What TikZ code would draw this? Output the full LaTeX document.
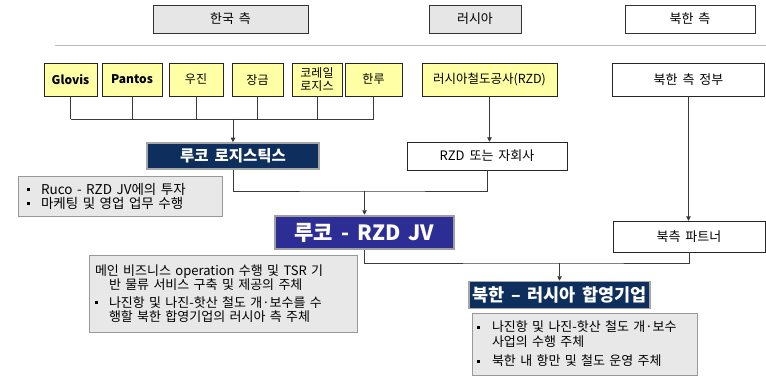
\documentclass[tikz,border=0pt]{standalone}
\usepackage{fontspec}
\setmainfont{Noto Sans CJK KR}[WordSpace=1.7]
\usetikzlibrary{arrows.meta}
\definecolor{hdrgray}{HTML}{E6E6E6}
\definecolor{yfill}{HTML}{FFFFA6}
\definecolor{navyfill}{HTML}{0E2F5E}
\definecolor{jvfill}{HTML}{2D2D96}
\definecolor{notefill}{HTML}{E8E8E8}
\definecolor{connline}{HTML}{3A3A3A}
\newcommand{\sqb}[1]{\makebox[#1][l]{\raisebox{3pt}{\rule{3pt}{3pt}}}}

\begin{document}
\begin{tikzpicture}[x=1pt,y=-1pt,
    hdr/.style={draw=black!80, minimum height=28pt, inner sep=0pt, font=\fontsize{13}{15}\selectfont},
    ybox/.style={draw=black!85, fill=yfill, minimum height=33pt, inner sep=0pt, align=center, font=\fontsize{12}{13.5}\selectfont},
    wbox/.style={draw=black!85, fill=white, minimum height=30pt, inner sep=0pt, font=\fontsize{13}{15}\selectfont},
    navy/.style={draw=gray!70, line width=1.5pt, fill=navyfill, text=white, inner sep=0pt, font=\fontsize{15.5}{17}\selectfont\bfseries},
    note/.style={draw=gray!80, fill=notefill, inner sep=0pt, align=left},
    conn/.style={draw=connline, line width=.9pt},
    >={Triangle[length=4.5pt,width=4.5pt]}]
  \useasboundingbox (0,0) rectangle (766,377);
  % header
  \node[hdr,fill=hdrgray,minimum width=155pt] (hkr) at (230.5,19) {한국 측};
  \node[hdr,fill=hdrgray,minimum width=92pt] (hru) at (475,19) {러시아};
  \node[hdr,fill=white,minimum width=130pt] (hnk) at (690,19) {북한 측};
  \draw[gray!55,line width=.8pt] (55,45) -- (766,45);
  % korean side
  \foreach \n/\x/\w/\t in {glovis/70.5/53/\textbf{Glovis}, pantos/132/60/\textbf{Pantos},
      ujin/196/54/우진, janggeum/257.5/51/장금, korail/317/50/{코레일\\로지스}, hanru/373.5/57/한루}
    \node[ybox,minimum width=\w pt] (\n) at (\x,79.5) {\t};
  \node[ybox,minimum width=135pt,font=\fontsize{12.5}{14}\selectfont] (rzd) at (489.5,79.5) {러시아철도공사(RZD)};
  \node[wbox,minimum width=152pt,minimum height=33pt] (nkgov) at (688.5,79.5) {북한 측 정부};
  \node[navy,minimum width=172pt,minimum height=26pt] (ruco) at (233,156) {루코 로지스틱스};
  \node[wbox,minimum width=160pt,minimum height=28pt] (rzdsub) at (487,156) {RZD 또는 자회사};
  \node[note,minimum width=204pt,minimum height=40pt,text width=186pt,font=\fontsize{13.5}{14}\selectfont] (note1) at (120,196)
    {\sqb{14pt}Ruco - RZD JV에의 투자\\ \sqb{14pt}마케팅 및 영업 업무 수행};
  \node[draw=gray!75,line width=2.5pt,fill=jvfill,text=white,inner sep=0pt,minimum width=179pt,minimum height=33pt,
    font=\fontsize{21}{23}\selectfont\bfseries] (jv) at (364.5,232.5) {루코 - RZD JV};
  \node[note,minimum width=268pt,minimum height=77pt,text width=256pt,font=\fontsize{13}{14.5}\selectfont] (note2) at (223,293.5)
    {메인 비즈니스 operation 수행 및 TSR 기\\
     \hspace*{14pt}반 물류 서비스 구축 및 제공의 주체\\[3pt]
     \sqb{14pt}나진항 및 나진-핫산 철도 개·보수를 수\\
     \hspace*{14pt}행할 북한 합영기업의 러시아 측 주체};
  \node[wbox,minimum width=152pt,minimum height=31pt] (nkpartner) at (689,236.5) {북측 파트너};
  \node[navy,minimum width=181pt,minimum height=27pt,font=\fontsize{17.5}{19}\selectfont\bfseries] (nkru) at (559.5,295) {북한 – 러시아 합영기업};
  \node[note,minimum width=225pt,minimum height=62pt,text width=215pt,font=\fontsize{13}{15}\selectfont] (note3) at (584.5,344)
    {\sqb{15pt}나진항 및 나진-핫산 철도 개·보수\\
     \hspace*{15pt}사업의 수행 주체\\[4pt]
     \sqb{15pt}북한 내 항만 및 철도 운영 주체};
  % connectors
  \coordinate (brk) at (233,119);
  \foreach \n in {glovis,pantos,ujin,janggeum,korail,hanru}
    \draw[conn] (\n.south) -- (\n.south |- brk);
  \draw[conn] (glovis.south |- brk) -- (hanru.south |- brk);
  \draw[conn,->] (brk) -- (ruco.north);
  \draw[conn,->] (rzd.south) -- (rzd.south |- rzdsub.north);
  \coordinate (jn1) at (364.5,191);
  \draw[conn] (ruco.south) |- (jn1) -| (rzdsub.south);
  \draw[conn,->] (jn1) -- (jv.north);
  \draw[conn,->] (nkgov.south) -- (nkgov.south |- nkpartner.north);
  \coordinate (jn2) at (559.5,263);
  \draw[conn] (jv.south) |- (jn2) -| (nkpartner.south);
  \draw[conn,->] (jn2) -- (nkru.north);
\end{tikzpicture}
\end{document}
